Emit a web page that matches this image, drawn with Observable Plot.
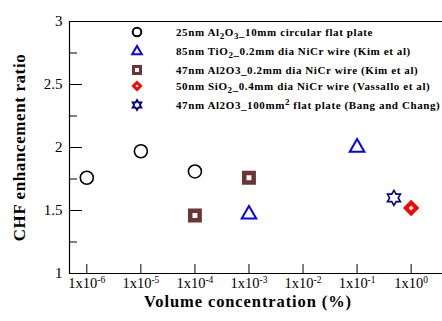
<!DOCTYPE html>
<html>
<head>
<meta charset="utf-8">
<script src="https://cdn.jsdelivr.net/npm/d3@7"></script>
<script src="https://cdn.jsdelivr.net/npm/@observablehq/plot@0.6"></script>
<style>
  html, body { margin: 0; padding: 0; background: #fff; }
  #wrap { position: relative; width: 442px; height: 321px; overflow: hidden; }
  #legend { position: absolute; left: 128px; top: 23px; font-family: "Liberation Serif", serif; font-weight: bold; font-size: 11px; letter-spacing: 0.6px; color: #000; }
  .row { position: absolute; left: 0; white-space: nowrap; height: 18px; line-height: 18px; }
  .row svg { position: absolute; left: 0; top: 0; }
  .row span { position: absolute; left: 48px; top: 0; }
  sub, sup { font-size: 9px; line-height: 0; }
  sub { vertical-align: -3px; }
  sup { vertical-align: 4px; }
</style>
</head>
<body>
<div id="wrap"></div>
<script>
// ---- data ----
const series = [
  {key: "al2o3_flat", symbol: "circle", color: "#000000"},
  {key: "tio2_wire", symbol: "triangle", color: "#0000ff"},
  {key: "al2o3_wire", symbol: "square", color: "#6b3535"},
  {key: "sio2_wire", symbol: "diamond", color: "#ff0000"},
  {key: "al2o3_bang", symbol: "star", color: "#000080"}
];
const legendLabels = [
  "25nm Al<sub>2</sub>O<sub>3</sub>_10mm circular flat plate",
  "85nm TiO<sub>2</sub>_0.2mm dia NiCr wire (Kim et al)",
  "47nm Al2O3_0.2mm dia NiCr wire (Kim et al)",
  "50nm SiO<sub>2</sub>_0.4mm dia NiCr wire (Vassallo et al)",
  "47nm Al2O3_100mm<sup>2</sup> flat plate (Bang and Chang)"
];
const circleX = [1e-6, 1e-5, 1e-4];
const circleY = [1.76, 1.97, 1.81];
const triangleX = [1e-3, 1e-1];
const triangleY = [1.47, 2.0];
const squareX = [1e-4, 1e-3];
const squareY = [1.46, 1.76];
const diamondX = [1];
const diamondY = [1.52];
const starX = [0.48];
const starY = [1.60];

const xTicks = [1e-6, 1e-5, 1e-4, 1e-3, 1e-2, 1e-1, 1];
const xTickExp = ["-6", "-5", "-4", "-3", "-2", "-1", "0"];
const yMajor = [1, 1.5, 2, 2.5, 3];
const yMinor = [1.25, 1.75, 2.25, 2.75];
const yLabels = ["1", "1.5", "2", "2.5", "3"];

// ---- custom symbol ----
const hexagram = {
  draw(ctx, size) {
    const R = Math.sqrt(size / Math.PI);
    const r = R / Math.sqrt(3);
    for (let i = 0; i < 12; i++) {
      const a = -Math.PI / 2 + i * Math.PI / 6;
      const rad = i % 2 === 0 ? R : r;
      const px = rad * Math.cos(a), py = rad * Math.sin(a);
      if (i === 0) ctx.moveTo(px, py); else ctx.lineTo(px, py);
    }
    ctx.closePath();
  }
};

const pts = (xs, ys) => xs.map((x, i) => ({x, y: ys[i]}));

const W = 442, H = 321, mL = 69, mR = 0, mT = 21, mB = 48;
const pw = W - mL - mR, ph = H - mT - mB;
const serif = "'Liberation Serif', serif";

const chart = Plot.plot({
  width: W, height: H,
  marginLeft: mL, marginRight: mR, marginTop: mT, marginBottom: mB,
  style: {fontFamily: serif, background: "#fff", overflow: "visible"},
  x: {type: "log", domain: [Math.pow(10, -6.32), Math.pow(10, 0.58)], axis: null},
  y: {domain: [1, 3], axis: null},
  marks: [
    // axis frame lines
    Plot.ruleY([1], {stroke: "#000", strokeWidth: 1.2}),
    Plot.ruleY([3], {stroke: "#000", strokeWidth: 1.2}),
    Plot.ruleX([Math.pow(10, -6.32)], {stroke: "#000", strokeWidth: 1.2}),
    // inward ticks
    Plot.tickX(xTicks, {x: d => d, stroke: "#000", strokeWidth: 1, insetTop: ph - 9}),
    Plot.tickY(yMajor, {y: d => d, stroke: "#000", strokeWidth: 1, insetRight: pw - 13}),
    Plot.tickY(yMinor, {y: d => d, stroke: "#000", strokeWidth: 1, insetRight: pw - 8}),
    // tick labels
    Plot.text(xTicks, {x: d => d, frameAnchor: "bottom", dy: 14, text: (d, i) => "1x10" + xTickExp[i], className: "xtl", fontSize: 14.5, fill: "#000"}),
    Plot.text(yMajor, {y: d => d, frameAnchor: "left", dx: -7, textAnchor: "end", text: (d, i) => yLabels[i], fontSize: 15, fill: "#000"}),
    // axis titles
    Plot.text(["Volume concentration (%)"], {frameAnchor: "bottom", dx: -8, dy: 33, text: d => d, fontSize: 16.5, fontWeight: "bold", fill: "#000", className: "xlab"}),
    Plot.text(["CHF enhancement ratio"], {frameAnchor: "left", textAnchor: "middle", dx: -50, rotate: -90, text: d => d, fontSize: 17, fontWeight: "bold", fill: "#000", className: "ylab"}),
    // data
    Plot.dot(pts(circleX, circleY), {x: "x", y: "y", symbol: "circle", r: 6.5, stroke: "#000", strokeWidth: 1.6, fill: "#fff"}),
    Plot.dot(pts(squareX, squareY), {x: "x", y: "y", symbol: "square", r: 5.3, stroke: series[2].color, strokeWidth: 4.5, fill: "#fff", strokeLinejoin: "miter"}),
    Plot.dot(pts(triangleX, triangleY), {x: "x", y: "y", symbol: "triangle", r: 5.4, stroke: series[1].color, strokeWidth: 2, fill: "none", strokeLinejoin: "miter"}),
    Plot.dot(pts(diamondX, diamondY), {x: "x", y: "y", symbol: "diamond2", r: 4.8, stroke: series[3].color, strokeWidth: 4, fill: "#fff", strokeLinejoin: "miter"}),
    Plot.dot(pts(starX, starY), {x: "x", y: "y", symbol: hexagram, r: 7.5, stroke: series[4].color, strokeWidth: 1.6, fill: "#fff", strokeLinejoin: "miter"})
  ]
});

// superscript exponents on x tick labels
d3.select(chart).selectAll(".xtl text").each(function () {
  const t = d3.select(this);
  const s = t.text();
  const base = s.slice(0, 4), exp = s.slice(4);
  t.text(null);
  t.append("tspan").text(base);
  t.append("tspan").attr("dy", "-0.45em").attr("font-size", "9.5px").text(exp);
});
d3.select(chart).selectAll(".xlab text").style("letter-spacing", "0.9px");
d3.select(chart).selectAll(".ylab text").style("letter-spacing", "0.6px");

const wrap = document.getElementById("wrap");
wrap.appendChild(chart);

// legend
const legend = document.createElement("div");
legend.id = "legend";
const rowsY = [0, 19, 38, 54, 73];
function symbolSvg(s) {
  const sz = 18;
  const c = sz / 2;
  let inner = "";
  if (s.symbol === "circle") inner = `<circle cx="${c}" cy="${c}" r="4.3" fill="#fff" stroke="#000" stroke-width="2"/>`;
  if (s.symbol === "triangle") inner = `<path d="${d3.symbol(d3.symbolTriangle, 40)().toString()}" transform="translate(${c},${c + 0.5})" fill="none" stroke="${s.color}" stroke-width="2"/>`;
  if (s.symbol === "square") inner = `<rect x="${c - 3.5}" y="${c - 3.5}" width="7" height="7" fill="#fff" stroke="${s.color}" stroke-width="3"/>`;
  if (s.symbol === "diamond") inner = `<path d="M${c},${c - 3.6}L${c + 3.6},${c}L${c},${c + 3.6}L${c - 3.6},${c}Z" fill="#fff" stroke="${s.color}" stroke-width="2.8"/>`;
  if (s.symbol === "star") inner = `<path d="${d3.symbol(hexagram, Math.PI * 25)().toString()}" transform="translate(${c},${c})" fill="#fff" stroke="${s.color}" stroke-width="1.8"/>`;
  return `<svg width="${sz}" height="${sz}">${inner}</svg>`;
}
series.forEach((s, i) => {
  const row = document.createElement("div");
  row.className = "row";
  row.style.top = rowsY[i] + "px";
  row.innerHTML = symbolSvg(s) + `<span>${legendLabels[i]}</span>`;
  legend.appendChild(row);
});
wrap.appendChild(legend);
</script>
</body>
</html>
